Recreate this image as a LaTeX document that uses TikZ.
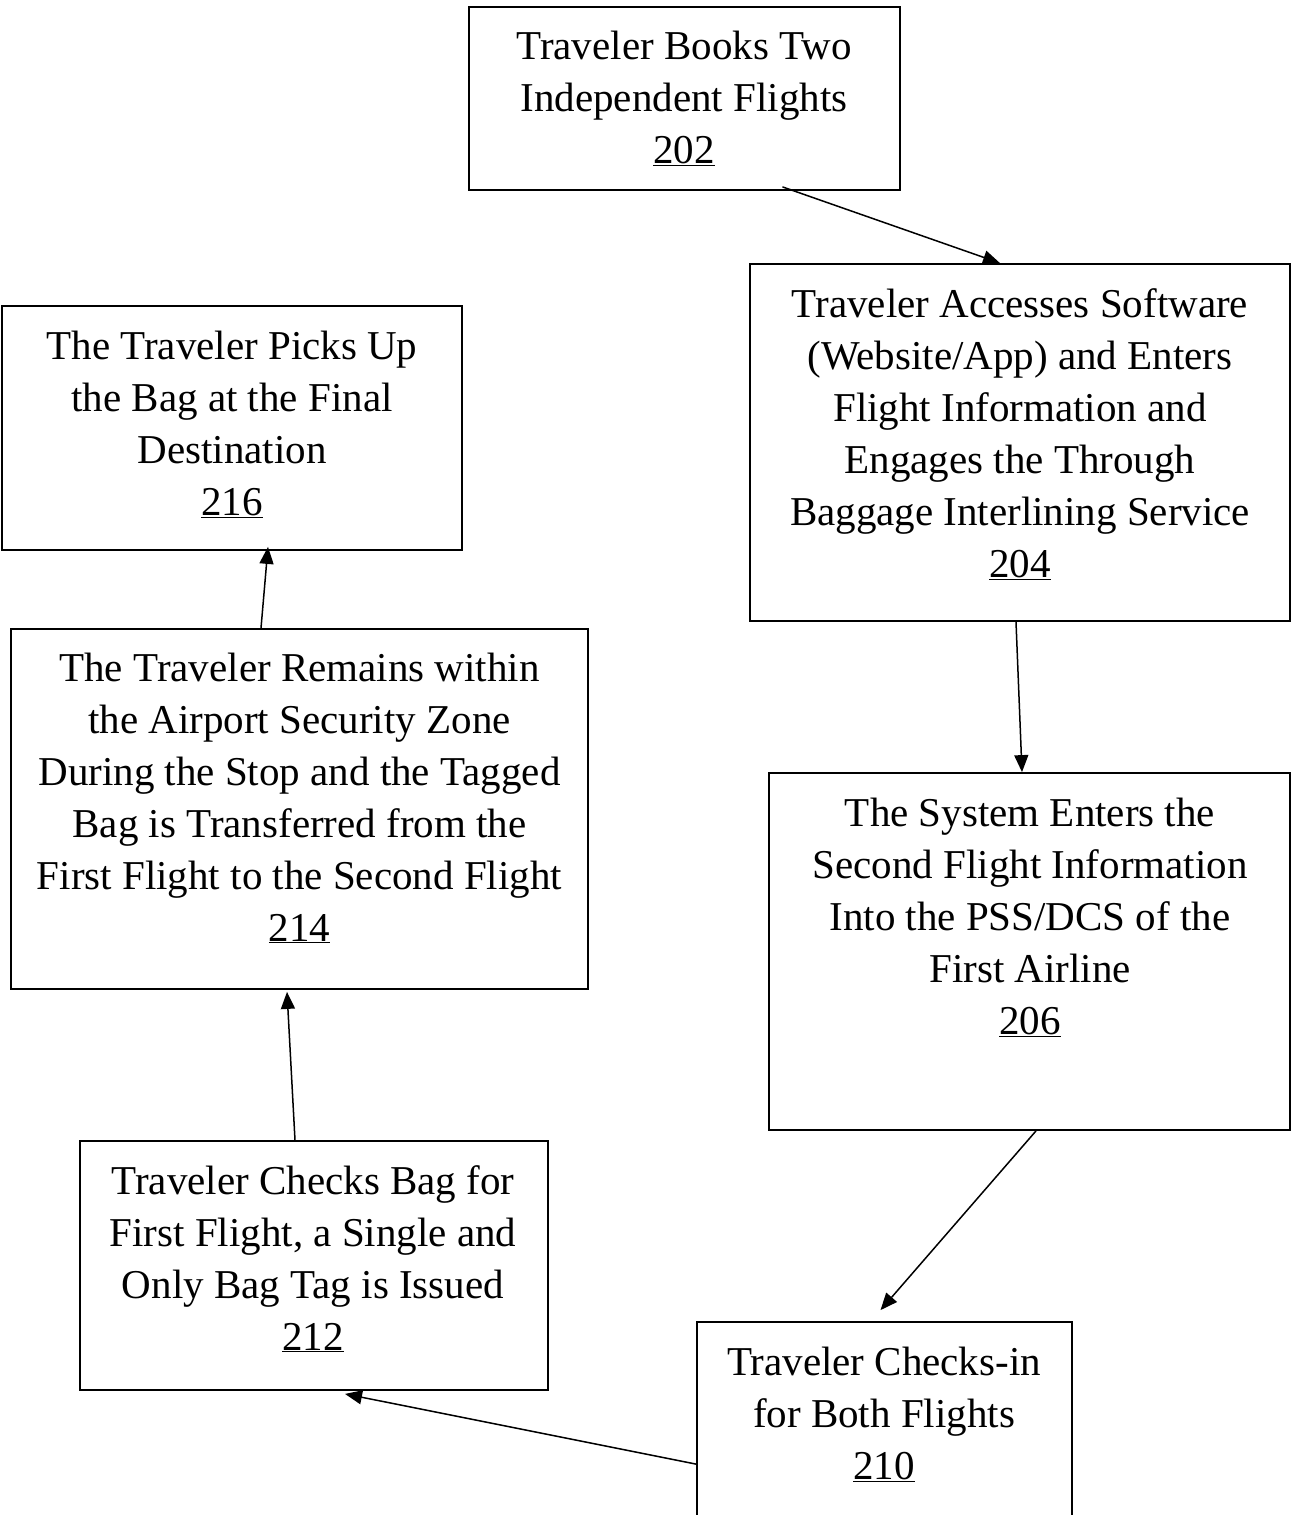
\documentclass[tikz,border=0pt]{standalone}
\usepackage{fontspec}
\setmainfont{Liberation Serif}
\usetikzlibrary{arrows.meta}
\begin{document}
\begin{tikzpicture}[x=1pt,y=-1pt,
  box/.style={draw=black,line width=1.8pt,rectangle,inner sep=0pt},
  txt/.style={font=\fontsize{41}{52}\selectfont,align=center,anchor=base,inner sep=0pt},
  conn/.style={draw=black,line width=1.5pt,-{Triangle[length=17pt,width=14pt]}}]
\useasboundingbox (0,0) rectangle (1292,1515);
\clip (0,0) rectangle (1292,1515);
% boxes
\node[box,minimum width=431pt,minimum height=183pt] (b202) at (684.5,98.5) {};
\node[box,minimum width=540pt,minimum height=357pt] (b204) at (1020,442.5) {};
\node[box,minimum width=460pt,minimum height=244pt] (b216) at (232,428) {};
\node[box,minimum width=577pt,minimum height=360pt] (b214) at (299.5,809) {};
\node[box,minimum width=521pt,minimum height=357pt] (b206) at (1029.5,951.5) {};
\node[box,minimum width=468pt,minimum height=249pt] (b212) at (314,1265.5) {};
\node[box,minimum width=375pt,minimum height=400pt] (b210) at (884.5,1522) {};
% texts (anchor at baseline of last line)
\node[txt] (t202) at (684,163) {Traveler Books Two\\Independent Flights\\\underline{202}};
\node[txt] (t204) at (1020,577) {Traveler Accesses Software\\(Website/App) and Enters\\Flight Information and\\Engages the Through\\Baggage Interlining Service\\\underline{204}};
\node[txt] (t216) at (232,515) {The Traveler Picks Up\\the Bag at the Final\\Destination\\\underline{216}};
\node[txt] (t214) at (299.5,941) {The Traveler Remains within\\the Airport Security Zone\\During the Stop and the Tagged\\Bag is Transferred from the\\First Flight to the Second Flight\\\underline{214}};
\node[txt] (t206) at (1030,1034) {The System Enters the\\Second Flight Information\\Into the PSS/DCS of the\\First Airline\\\underline{206}};
\node[txt] (t212) at (313,1350) {Traveler Checks Bag for\\First Flight, a Single and\\Only Bag Tag is Issued\\\underline{212}};
\node[txt] (t210) at (884,1479) {Traveler Checks-in\\for Both Flights\\\underline{210}};
% connectors
\draw[conn] ([xshift=98pt,yshift=4pt]b202.south) -- ([xshift=-20pt]b204.north);
\draw[conn] ([xshift=-4pt]b204.south) -- ([xshift=-7.5pt]b206.north);
\draw[conn] ([xshift=6.5pt]b206.south) -- ([xshift=-4pt,yshift=11pt]b210.north);
\draw[conn] ([yshift=-143pt]b210.north west) -- ([xshift=31pt,yshift=-3pt]b212.south);
\draw[conn] ([xshift=-19pt]b212.north) -- ([xshift=-12.5pt,yshift=-2pt]b214.south);
\draw[conn] ([xshift=-38.5pt]b214.north) -- ([xshift=36pt,yshift=4pt]b216.south);
\end{tikzpicture}
\end{document}
